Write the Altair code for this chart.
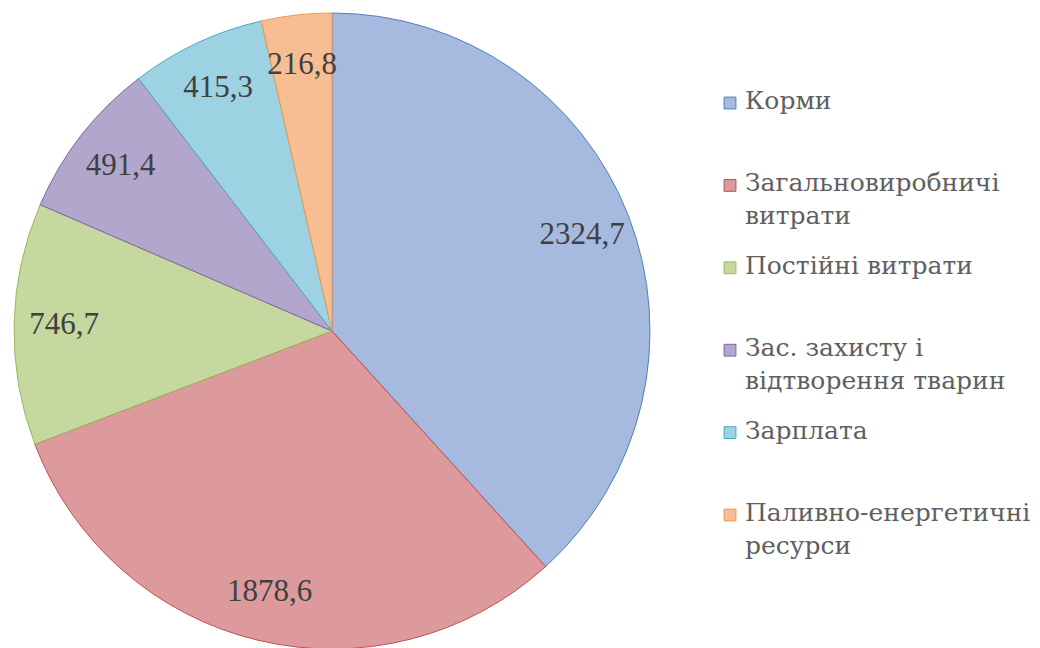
import altair as alt
import pandas as pd

categories = ["Корми", "Загальновиробничі витрати", "Постійні витрати",
              "Зас. захисту і відтворення тварин", "Зарплата",
              "Паливно-енергетичні ресурси"]
legend_labels = ["Корми", "Загальновиробничі\nвитрати", "Постійні витрати",
                 "Зас. захисту і\nвідтворення тварин", "Зарплата",
                 "Паливно-енергетичні\nресурси"]
values = [2324.7, 1878.6, 746.7, 491.4, 415.3, 216.8]

fill_colors = ["#A6BADF", "#DC9A9D", "#C4D89F", "#B2A6CC", "#9DD2E2", "#F8BE93"]
edge_colors = ["#4F81BD", "#C0504D", "#9BBB59", "#8064A2", "#4BACC6", "#F79646"]

df = pd.DataFrame({
    "cat": categories,
    "leg": legend_labels,
    "value": values,
    "idx": list(range(len(categories))),
})

color_scale = alt.Scale(domain=categories, range=fill_colors)
stroke_scale = alt.Scale(domain=categories, range=edge_colors)
FONT = "Liberation Serif"
LEG_FONT = "DejaVu Serif"

base = alt.Chart(df).transform_calculate(
    label="replace(format(datum.value, '.1f'), '.', ',')"
)

arcs = base.mark_arc(outerRadius=318, strokeWidth=1).encode(
    theta=alt.Theta("value:Q", stack=True),
    order=alt.Order("idx:Q"),
    color=alt.Color("cat:N", scale=color_scale, legend=None),
    stroke=alt.Stroke("cat:N", scale=stroke_scale, legend=None),
)

labels = base.mark_text(radius=268, fontSize=31, font=FONT, color="#404040").encode(
    theta=alt.Theta("value:Q", stack=True),
    order=alt.Order("idx:Q"),
    text="label:N",
)

pie = alt.layer(arcs, labels).properties(width=648, height=632)

yscale = alt.Scale(domain=[0, 5], range=[74, 486])

leg_sq = alt.Chart(df).mark_square(size=140, strokeWidth=1, yOffset=14, opacity=1).encode(
    x=alt.value(74),
    y=alt.Y("idx:Q", scale=yscale, axis=None),
    color=alt.Color("cat:N", scale=color_scale, legend=None),
    stroke=alt.Stroke("cat:N", scale=stroke_scale, legend=None),
)

leg_txt = alt.Chart(df).mark_text(
    align="left", baseline="top", lineBreak="\n", fontSize=25, lineHeight=33,
    font=LEG_FONT, color="#5f5f5f"
).encode(
    x=alt.value(89),
    y=alt.Y("idx:Q", scale=yscale, axis=None),
    text="leg:N",
)

legend = alt.layer(leg_sq, leg_txt).properties(width=360, height=632)

chart = alt.hconcat(pie, legend, spacing=0).properties(
    padding={"top": 3, "left": 0, "right": 0, "bottom": 0},
    background="white",
).configure_view(strokeOpacity=0, strokeWidth=0)

chart.save("out.html", embed_options={"renderer": "svg", "actions": False})
